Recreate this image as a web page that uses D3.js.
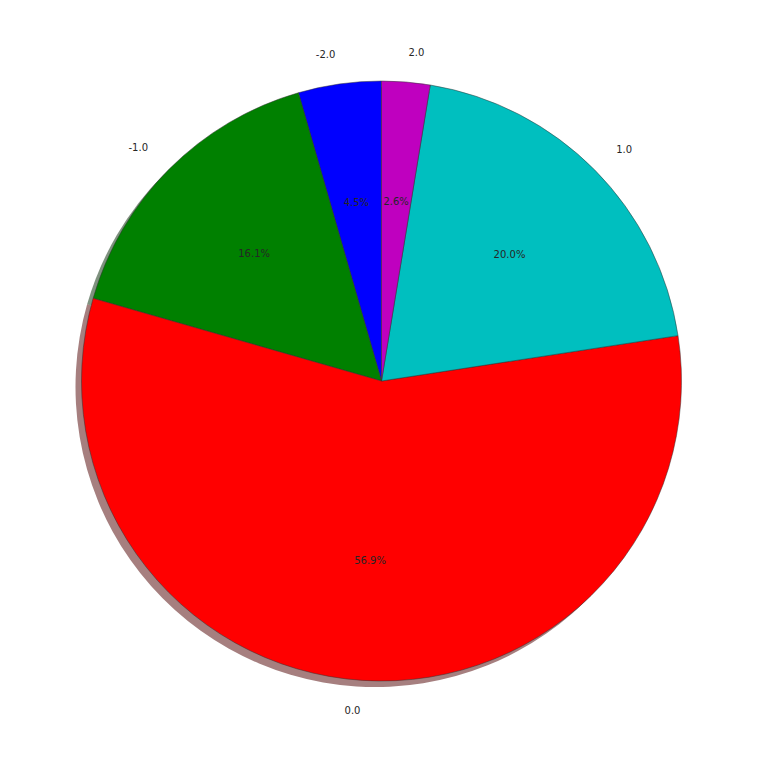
<!DOCTYPE html>
<html><head><meta charset="utf-8">
<script src="https://cdn.jsdelivr.net/npm/d3@7"></script>
<style>body{margin:0;background:#fff}</style>
</head><body>
<svg id="c" width="763" height="763"></svg>
<script>
const categories = ["-2.0", "-1.0", "0.0", "1.0", "2.0"];
const values = [4.47, 16.1, 56.9, 20.0, 2.6];
const colors = ["#0000ff", "#008000", "#ff0000", "#00bfbf", "#bf00bf"];

const svg = d3.select("#c");
const cx = 381.5, cy = 381, R = 300;
const data = categories.map((c, i) => ({cat: c, v: values[i], col: colors[i]}));
const pie = d3.pie().value(d => d.v).sort(null).startAngle(0).endAngle(-2 * Math.PI);
const arcs = pie(data);
const total = d3.sum(values);
const arc = d3.arc().innerRadius(0).outerRadius(R);

// shadow
const sh = svg.append("g").attr("transform", `translate(${cx - 6},${cy + 6})`);
sh.selectAll("path").data(arcs).join("path")
  .attr("d", arc)
  .attr("fill", d => { const c = d3.rgb(d.data.col); return d3.rgb(c.r * 0.3, c.g * 0.3, c.b * 0.3).toString(); })
  .attr("fill-opacity", 0.5);

const g = svg.append("g").attr("transform", `translate(${cx},${cy})`);
g.selectAll("path").data(arcs).join("path")
  .attr("d", arc)
  .attr("fill", d => d.data.col)
  .attr("stroke", "#333")
  .attr("stroke-width", 0.5)
  .attr("stroke-linejoin", "round");

const mid = d => (d.startAngle + d.endAngle) / 2;
g.selectAll("text.lab").data(arcs).join("text").attr("class", "lab")
  .attr("x", d => Math.sin(mid(d)) * R * 1.1)
  .attr("y", d => -Math.cos(mid(d)) * R * 1.1)
  .attr("text-anchor", d => Math.sin(mid(d)) > 0 ? "start" : "end")
  .attr("dominant-baseline", "central")
  .attr("font-family", "DejaVu Sans")
  .attr("font-size", 10)
  .attr("fill", "#262626")
  .text(d => d.data.cat);

g.selectAll("text.pct").data(arcs).join("text").attr("class", "pct")
  .attr("x", d => Math.sin(mid(d)) * R * 0.6)
  .attr("y", d => -Math.cos(mid(d)) * R * 0.6)
  .attr("text-anchor", "middle")
  .attr("dominant-baseline", "central")
  .attr("font-family", "DejaVu Sans")
  .attr("font-size", 10)
  .attr("fill", "#262626")
  .text(d => (d.data.v / total * 100).toFixed(1) + "%");
</script>
</body></html>
